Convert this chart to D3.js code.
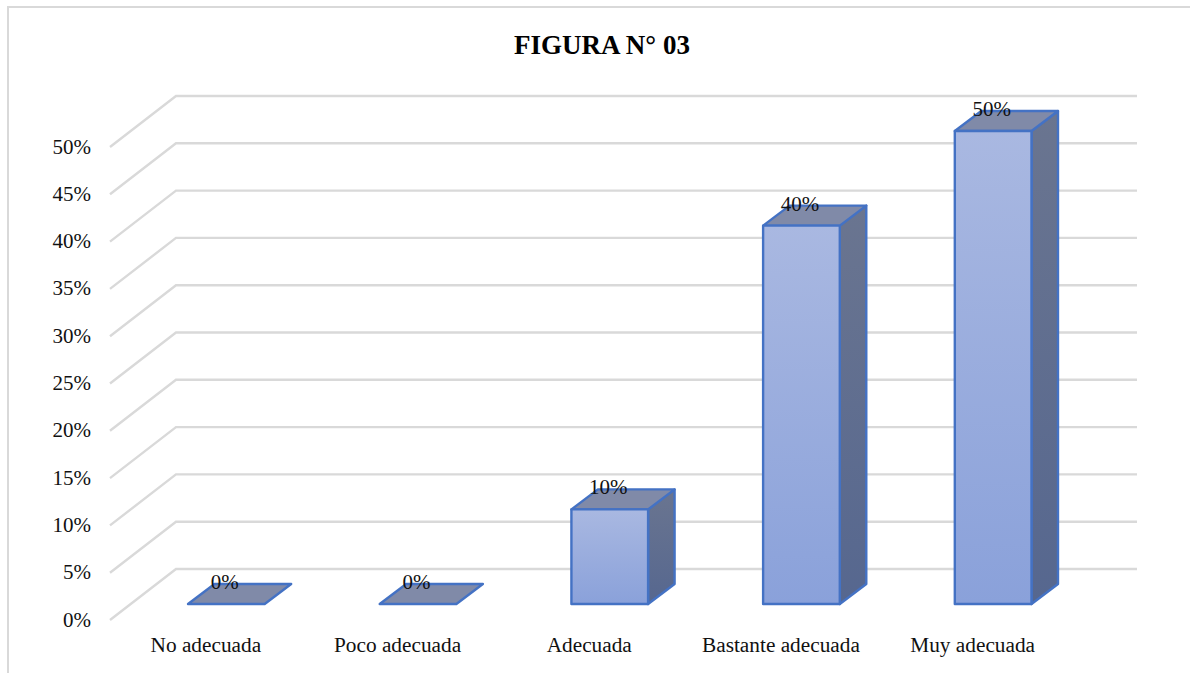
<!DOCTYPE html>
<html><head><meta charset="utf-8">
<script src="https://cdn.jsdelivr.net/npm/d3@7"></script>
<style>html,body{margin:0;padding:0;background:#fff}svg{display:block}text{font-family:"Liberation Serif",serif;fill:#111}</style>
</head><body><svg id="c" width="1190" height="673"></svg>
<script>
const title = "FIGURA N° 03";
const categories = ["No adecuada","Poco adecuada","Adecuada","Bastante adecuada","Muy adecuada"];
const values = [0,0,10,40,50];
const tickValues = [0,5,10,15,20,25,30,35,40,45,50];

const svg=d3.select("#c");
const defs=svg.append("defs");
function grad(id,a,b){const g=defs.append("linearGradient").attr("id",id)
  .attr("x1",0).attr("x2",0).attr("y1",0).attr("y2",1);
  g.append("stop").attr("offset",0).attr("stop-color",a);g.append("stop").attr("offset",1).attr("stop-color",b);}
grad("front","#a9b8e1","#8aa1da");
grad("side","#6a7590","#56678f");

svg.append("path").attr("d","M8 673V7H1190").attr("fill","none").attr("stroke","#d9d9d9").attr("stroke-width",2);

// scales: front plane of the bars; depth offset gives the 3-D shear
const y=d3.scaleLinear().domain([0,50]).range([604,131]);
const x=d3.scaleBand().domain(categories).range([130.5,1089]).paddingInner(0.6).paddingOuter(0.3);
const depthX=26.5, depthY=-20;
const wallShift=-35, wallLeft=176, wallRight=1137, floorLeft=110, floorDrop=51;

const yWall=v=>y(v)+wallShift;
const grid=svg.append("g").attr("fill","none").attr("stroke","#d9d9d9").attr("stroke-width",2.4);
grid.selectAll("path").data(tickValues).join("path")
  .attr("d",v=>`M${floorLeft} ${yWall(v)+floorDrop}L${wallLeft} ${yWall(v)}H${wallRight}`);

svg.append("g").attr("font-size",21).attr("text-anchor","end").selectAll("text").data(tickValues).join("text")
  .attr("x",91).attr("y",v=>yWall(v)+floorDrop+6.5).text(v=>v+"%");

const bars=svg.append("g").attr("stroke","#4472c4").attr("stroke-width",2.4).attr("stroke-linejoin","round");
categories.forEach((c,i)=>{
  const x0=x(c),x1=x0+x.bandwidth(),yt=y(values[i]),yb=y(0);
  const g=bars.append("g");
  if(values[i]>0){
    g.append("path").attr("fill","url(#side)").attr("d",`M${x1} ${yt}L${x1+depthX} ${yt+depthY}V${yb+depthY}L${x1} ${yb}Z`);
  }
  g.append("path").attr("fill","#808aa8").attr("d",`M${x0} ${yt}L${x0+depthX} ${yt+depthY}H${x1+depthX}L${x1} ${yt}Z`);
  if(values[i]>0){
    g.append("rect").attr("fill","url(#front)").attr("x",x0).attr("y",yt).attr("width",x.bandwidth()).attr("height",yb-yt);
  }
});

svg.append("g").attr("font-size",21.3).attr("text-anchor","middle").selectAll("text").data(categories).join("text")
  .attr("x",c=>x(c)+x.bandwidth()/2-20.5).attr("y",652).text(c=>c);
svg.append("g").attr("font-size",21).attr("text-anchor","middle").selectAll("text").data(values).join("text")
  .attr("x",(v,i)=>x(categories[i])+x.bandwidth()/2-1.5).attr("y",v=>y(v)-15).text(v=>v+"%");
svg.append("text").attr("x",602).attr("y",53.5).attr("text-anchor","middle").attr("font-size",27).attr("font-weight","bold").style("fill","#000").text(title);
</script></body></html>
